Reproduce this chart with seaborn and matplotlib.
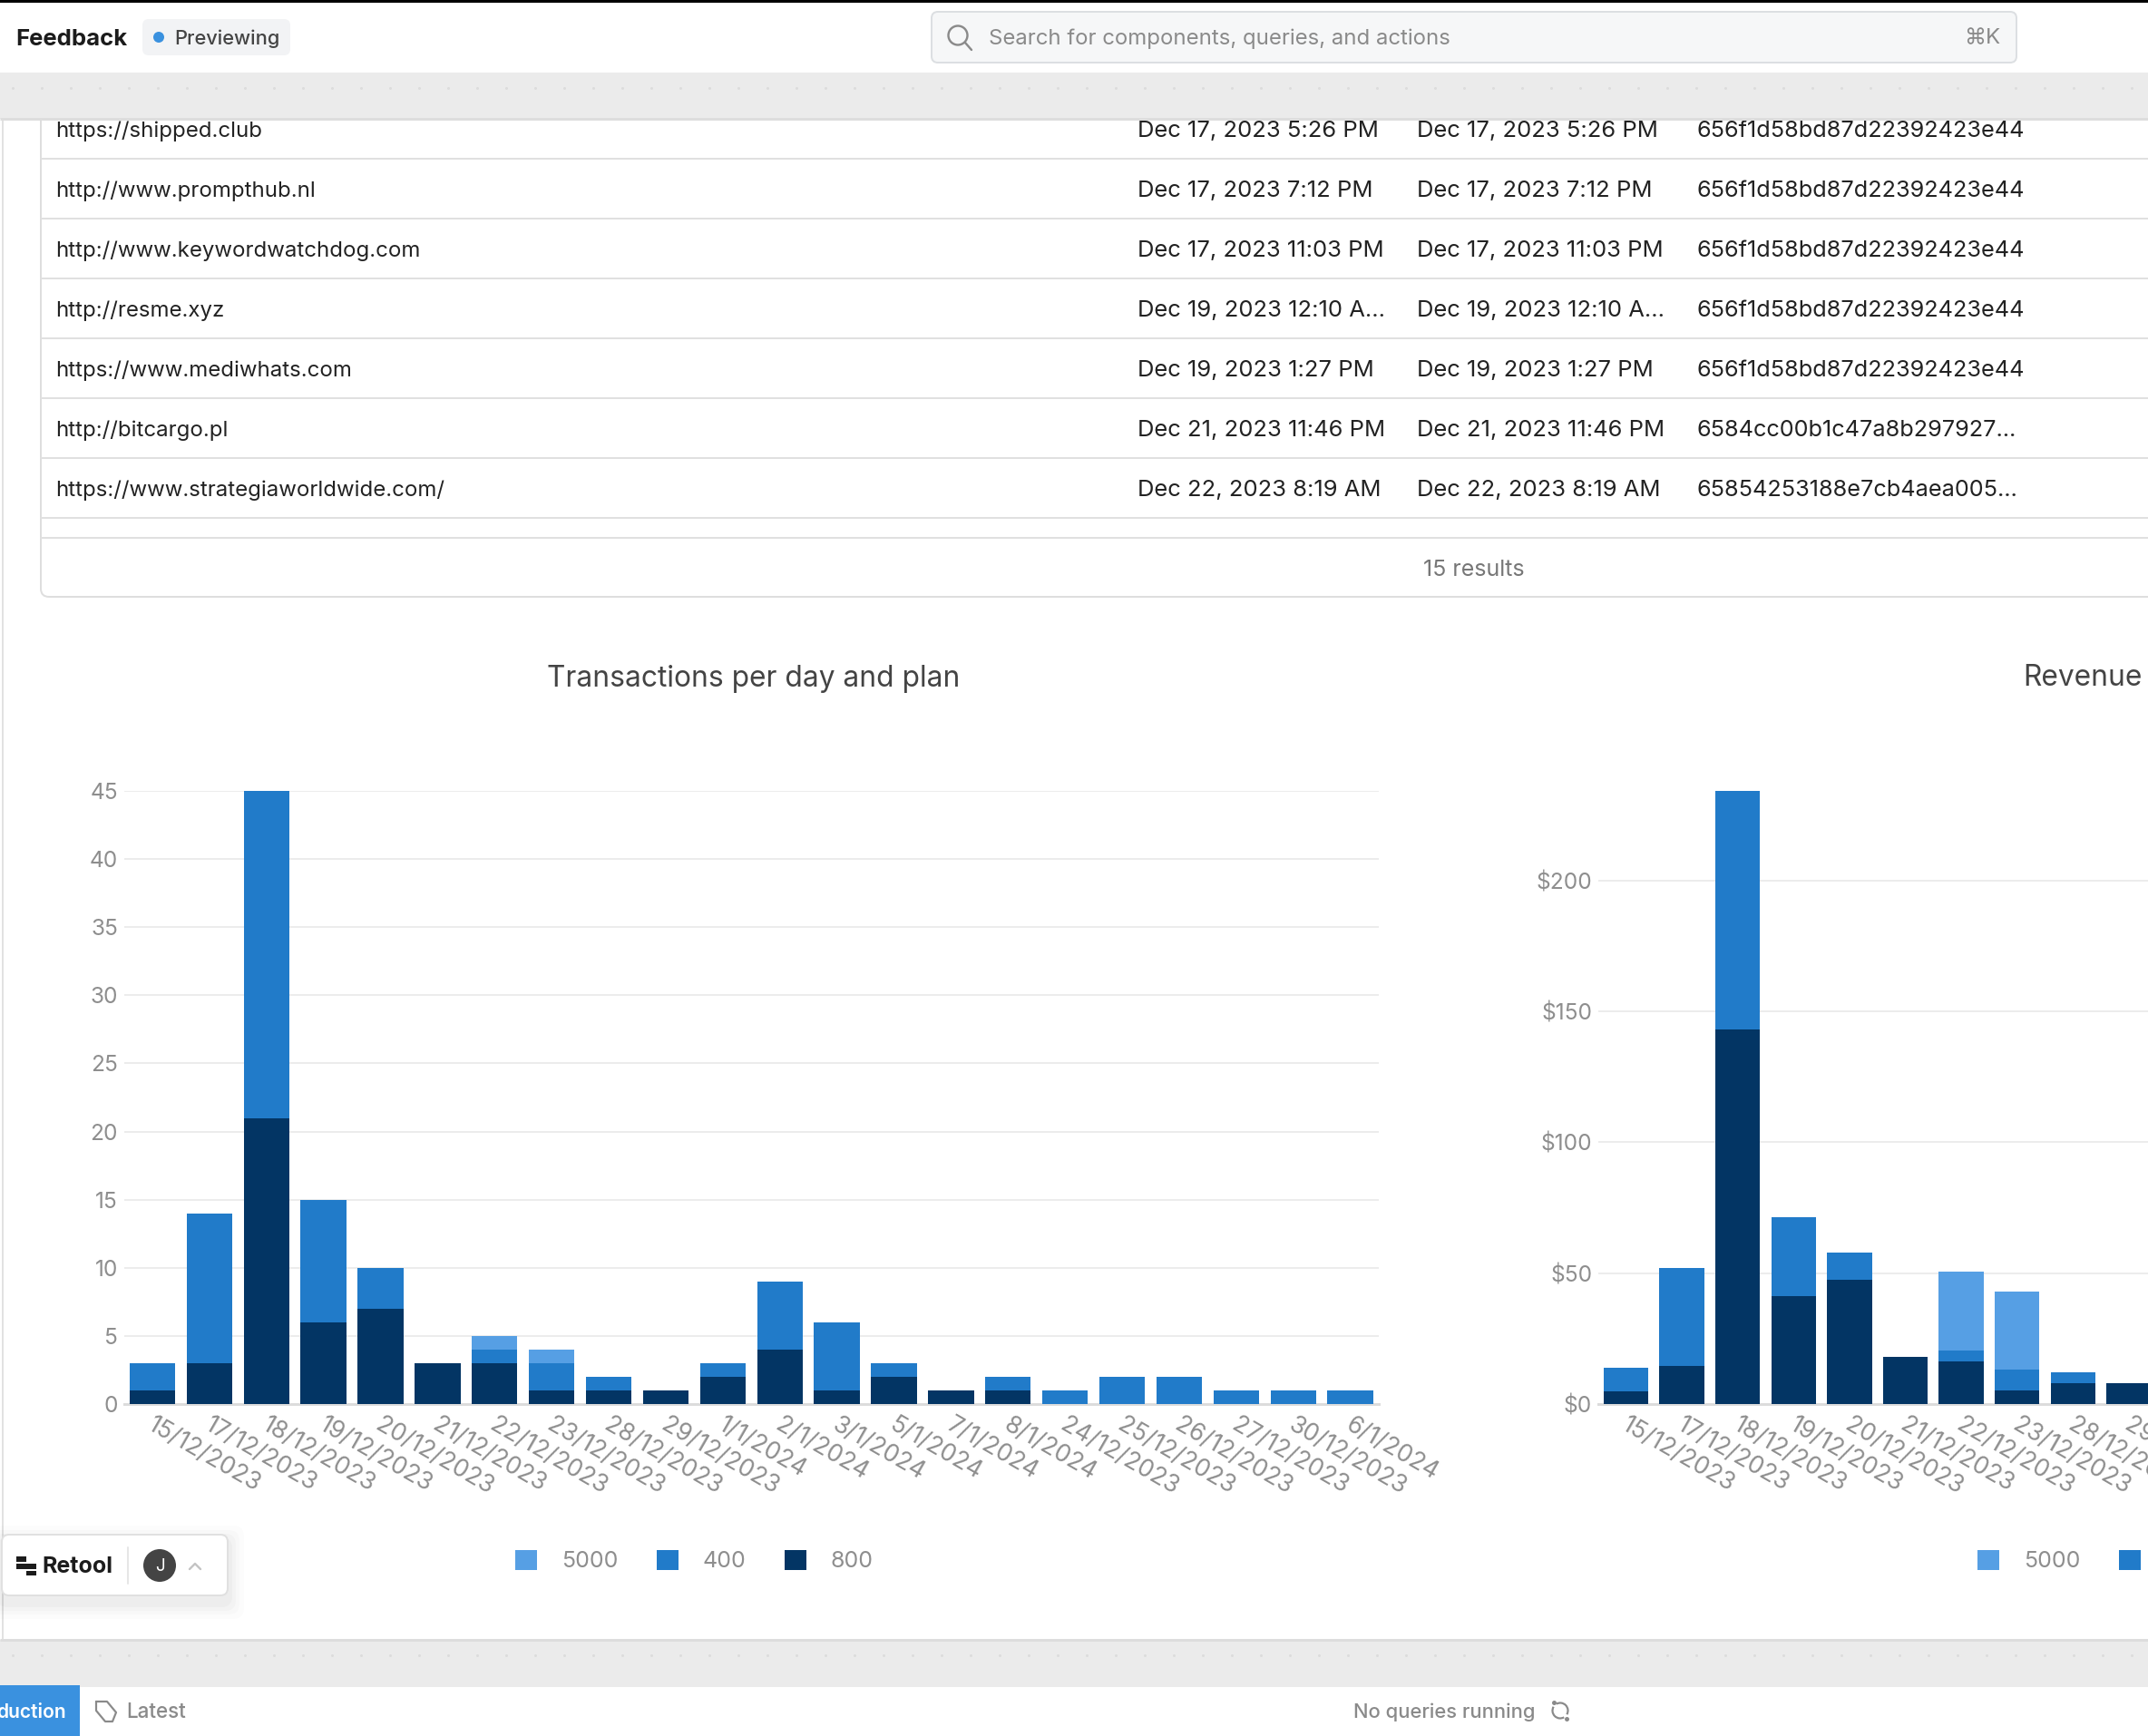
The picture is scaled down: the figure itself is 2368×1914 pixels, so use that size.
import numpy as np
import pandas as pd
import seaborn as sns
import matplotlib
matplotlib.use("Agg")
import matplotlib.pyplot as plt
from matplotlib.patches import Patch, Rectangle, FancyBboxPatch, Circle, Arc
from matplotlib.transforms import ScaledTranslation

# ---------- data ----------
dates = ["15/12/2023", "17/12/2023", "18/12/2023", "19/12/2023", "20/12/2023", "21/12/2023",
         "22/12/2023", "23/12/2023", "28/12/2023", "29/12/2023", "1/1/2024", "2/1/2024",
         "3/1/2024", "5/1/2024", "7/1/2024", "8/1/2024", "24/12/2023", "25/12/2023",
         "26/12/2023", "27/12/2023", "30/12/2023", "6/1/2024"]
tx_800 = [1, 3, 21, 6, 7, 3, 3, 1, 1, 1, 2, 4, 1, 2, 1, 1, 0, 0, 0, 0, 0, 0]
tx_400 = [2, 11, 24, 9, 3, 0, 1, 2, 1, 0, 1, 5, 5, 1, 0, 1, 1, 2, 2, 1, 1, 1]
tx_5000 = [0, 0, 0, 0, 0, 0, 1, 1, 0, 0, 0, 0, 0, 0, 0, 0, 0, 0, 0, 0, 0, 0]

rev_dates = dates[:10]
rev_800 = [4.9, 14.6, 143.0, 41.2, 47.5, 18.0, 16.3, 5.1, 8.0, 8.0]
rev_400 = [9.0, 37.4, 91.2, 30.2, 10.4, 0.0, 4.2, 8.0, 4.2, 0.0]
rev_5000 = [0.0, 0.0, 0.0, 0.0, 0.0, 0.0, 30.0, 29.8, 0.0, 0.0]

plans = ["5000", "400", "800"]
tx_ticks = [0, 5, 10, 15, 20, 25, 30, 35, 40, 45]
rev_ticks = [0, 50, 100, 150, 200]

row_urls = ["https://shipped.club", "http://www.prompthub.nl", "http://www.keywordwatchdog.com",
            "http://resme.xyz", "https://www.mediwhats.com", "http://bitcargo.pl",
            "https://www.strategiaworldwide.com/"]
row_created = ["Dec 17, 2023 5:26 PM", "Dec 17, 2023 7:12 PM", "Dec 17, 2023 11:03 PM",
               "Dec 19, 2023 12:10 A…", "Dec 19, 2023 1:27 PM", "Dec 21, 2023 11:46 PM",
               "Dec 22, 2023 8:19 AM"]
row_ids = ["656f1d58bd87d22392423e44"] * 5 + ["6584cc00b1c47a8b297927…", "65854253188e7cb4aea005…"]

# ---------- style ----------
W, H = 2368, 1914
LIGHT, MID, DARK = "#569fe4", "#217bc9", "#033564"
GRID, BASE, TICK = "#ececec", "#dcdcdc", "#8e8e8e"
BAND = "#ebebeb"

sns.set_theme(style="white")
plt.rcParams["font.family"] = ["Inter", "DejaVu Sans"]


def pt(px):
    return px * 0.72


fig = plt.figure(figsize=(W / 100, H / 100), dpi=100, facecolor="white")

# ---------- page furniture, in pixel coordinates ----------
bg = fig.add_axes([0, 0, 1, 1], zorder=0)
bg.set_xlim(0, W)
bg.set_ylim(H, 0)
bg.axis("off")


def rect(x0, y0, x1, y1, **kw):
    kw.setdefault("linewidth", 0)
    bg.add_patch(Rectangle((x0, y0), x1 - x0, y1 - y0, **kw))


def hline(y, x0=45, x1=W, c="#e0e0e0", lw=2):
    bg.plot([x0, x1], [y, y], color=c, lw=pt(lw), solid_capstyle="butt")


# table
bg.add_patch(FancyBboxPatch((45, 90), W, 568, boxstyle="round,pad=0,rounding_size=9",
                            fc="white", ec="#dedede", lw=pt(2)))
for y in [174.7, 240.7, 306.8, 372.9, 439, 504.6, 570.7, 592.6]:
    hline(y)
TXT = "#222222"
for i, (u, c, d) in enumerate(zip(row_urls, row_created, row_ids)):
    y = 144.5 + 66 * i
    bg.text(61, y, u, fontsize=pt(24), color=TXT, va="center")
    bg.text(1253.5, y, c, fontsize=pt(25.6), color=TXT, va="center")
    bg.text(1562, y, c, fontsize=pt(25.6), color=TXT, va="center")
    bg.text(1871, y, d, fontsize=pt(25.3), color=TXT, va="center")
bg.text(1624.5, 628.5, "15 results", fontsize=pt(25), color="#777777", ha="center", va="center")

# panel left edge
bg.plot([3, 3], [131, 1808], color="#e2e2e2", lw=pt(2))

# grey bands with dots
for y0, y1 in [(80, 131), (1808, 1860)]:
    rect(y0=y0, y1=y1, x0=0, x1=W, facecolor=BAND, zorder=5)
    hline(y1 if y0 == 80 else y0, x0=0, c="#dddddd", lw=3)
    bg.lines[-1].set_zorder(6)
    dots = np.arange(14, W, 32)
    bg.plot(dots, np.full_like(dots, y0 + 17), ls="", marker="o", ms=pt(3), color="#dcdcdc", mew=0, zorder=6)

# header
rect(0, 0, W, 2.5, facecolor="black", zorder=7)
bg.text(17.5, 44, "Feedback", fontsize=pt(25.7), fontweight="bold", color="#1c1c1c", va="center")
bg.add_patch(FancyBboxPatch((157, 21), 163, 40, boxstyle="round,pad=0,rounding_size=7", fc="#f2f3f5", ec="none"))
bg.add_patch(Circle((175, 41), 6, fc="#3a91df", ec="none"))
bg.text(192, 43, "Previewing", fontsize=pt(21.8), fontweight="medium", color="#444444", va="center")
bg.add_patch(FancyBboxPatch((1027, 13), 1196, 56, boxstyle="round,pad=0,rounding_size=7",
                            fc="#f6f7f8", ec="#dcdfe2", lw=pt(2)))
bg.add_patch(Circle((1056, 39), 10.5, fc="none", ec="#8a8a8a", lw=pt(2.4)))
bg.plot([1064, 1071], [47, 55], color="#8a8a8a", lw=pt(2.4))
bg.text(1090, 43, "Search for components, queries, and actions", fontsize=pt(23.9), color="#8a8a8a", va="center")
bg.text(2205, 42.5, "⌘K", fontsize=pt(24), color="#8a8a8a", va="center", ha="right")

# footer
rect(0, 1858, 88, 1914, facecolor="#3a91df", zorder=7)
bg.text(72.5, 1887.5, "duction", fontsize=pt(21), fontweight="semibold", color="white", va="center", ha="right", zorder=8)
bg.plot([106, 118, 128, 124, 116, 106, 106], [1876, 1876, 1888, 1898, 1898, 1886, 1876], color="#8a8a8a", lw=pt(2.2))
bg.text(139, 1887.5, "Latest", fontsize=pt(22.5), fontweight="medium", color="#8a8a8a", va="center")
bg.text(1492, 1887.5, "No queries running", fontsize=pt(22), fontweight="medium", color="#8a8a8a", va="center")
for t1, t2, tip in [(60, 210, (1713, 1877)), (240, 30, (1727, 1895))]:
    bg.add_patch(Arc((1720, 1886), 17, 17, theta1=t1, theta2=t2, color="#8a8a8a", lw=pt(2.2)))
    bg.plot(*tip, ls="", marker="o", ms=pt(5), color="#8a8a8a", mew=0)

# ---------- charts ----------
series_tx = {"800": tx_800, "400": tx_400, "5000": tx_5000}
series_rev = {"800": rev_800, "400": rev_400, "5000": rev_5000}


def stacked(ax, cats, series, ticks, fmt, ymax):
    low = np.array(series["800"], float)
    mid = low + np.array(series["400"], float)
    top = mid + np.array(series["5000"], float)
    for values, colour in [(top, LIGHT), (mid, MID), (low, DARK)]:
        frame = pd.DataFrame({"date": cats, "value": values})
        sns.barplot(frame, x="date", y="value", order=cats, color=colour, saturation=1,
                    width=0.8, errorbar=None, ax=ax, zorder=3, linewidth=0, edgecolor="none")
    ax.set_xlim(-0.5, len(cats) - 0.5)
    ax.set_ylim(0, ymax)
    ax.set_xlabel("")
    ax.set_ylabel("")
    ax.set_yticks(ticks)
    ax.set_yticklabels([fmt(t) for t in ticks])
    ax.grid(axis="y", color=GRID, lw=pt(2))
    ax.grid(axis="x", visible=False)
    ax.set_axisbelow(True)
    ax.patch.set_alpha(0)
    sns.despine(ax=ax, left=True, top=True, right=True)
    ax.spines["bottom"].set_color(BASE)
    ax.spines["bottom"].set_linewidth(pt(3))
    ax.tick_params(axis="y", length=0, pad=pt(6.5), labelsize=pt(24.5), labelcolor=TICK)
    ax.tick_params(axis="x", length=0, pad=pt(21), labelsize=pt(26.6), labelcolor=TICK)
    shift = ScaledTranslation(-3 / 100, 0, fig.dpi_scale_trans)
    for lab in ax.get_xticklabels():
        lab.set(rotation=-30, ha="left", va="center", rotation_mode="anchor")
        lab.set_transform(lab.get_transform() + shift)


def axes_px(x0, x1, y0, y1):
    return fig.add_axes([x0 / W, 1 - y1 / H, (x1 - x0) / W, (y1 - y0) / H], zorder=2)


def legend(ax, x_center):
    handles = [Patch(fc=c, ec="none", label=l) for c, l in zip([LIGHT, MID, DARK], plans)]
    ax.legend(handles=handles, ncol=3, loc="center", bbox_to_anchor=(x_center, 1 - 1721 / H),
              bbox_transform=fig.transFigure, frameon=False, fontsize=pt(25), labelcolor=TICK,
              handlelength=0.96, handleheight=0.96, handletextpad=1.08, columnspacing=1.68,
              borderpad=0, borderaxespad=0)


ax1 = axes_px(136.5, 1520, 872, 1548)
stacked(ax1, dates, series_tx, tx_ticks, str, 45)
ax1.set_title("Transactions per day and plan", fontsize=pt(31.7), color="#444444", pad=pt(115.5),
              x=(830.5 - 136.5) / (1520 - 136.5))
legend(ax1, 765.5 / W)

ax2 = axes_px(1761.7, 1761.7 + 61.6 * 10, 872, 1548)
stacked(ax2, rev_dates, series_rev, rev_ticks, lambda v: f"${v}", 234.2)
ax2.set_title("Revenue", fontsize=pt(31.7), color="#444444", pad=pt(115.5), x=(2230 - 1761.7) / 616, ha="left")
legend(ax2, 2377.5 / W)

# ---------- Retool badge ----------
ov = fig.add_axes([0, 0, 1, 1], zorder=3)
ov.set_xlim(0, W)
ov.set_ylim(H, 0)
ov.axis("off")
for grow, a in [(18, 0.012), (13, 0.015), (9, 0.02), (5, 0.025)]:
    ov.add_patch(FancyBboxPatch((2 - grow, 1692 - grow + 8), 249 + 2 * grow, 67 + 2 * grow,
                                boxstyle="round,pad=0,rounding_size=12", fc="black", ec="none", alpha=a))
ov.add_patch(FancyBboxPatch((2, 1692), 249, 67, boxstyle="round,pad=0,rounding_size=8",
                            fc="white", ec="#e0e0e0", lw=pt(2)))
for x0, x1, y0, y1 in [(18, 29, 1716, 1722), (18, 40, 1724, 1730), (29, 40, 1732, 1737)]:
    ov.add_patch(Rectangle((x0, y0), x1 - x0, y1 - y0, fc="#1c1c1c", ec="none"))
ov.text(46, 1728, "Retool", fontsize=pt(25), fontweight="bold", color="#1c1c1c", va="center")
ov.plot([141, 141], [1706, 1746], color="#e6e6e6", lw=pt(2))
ov.add_patch(Circle((176, 1726), 18, fc="#444444", ec="none"))
ov.text(176, 1727, "J", fontsize=pt(19), color="white", ha="center", va="center")
ov.plot([209, 215, 221], [1730, 1724, 1730], color="#c4c4c4", lw=pt(2.4))

fig.savefig("out.png", dpi=100, facecolor="white")
